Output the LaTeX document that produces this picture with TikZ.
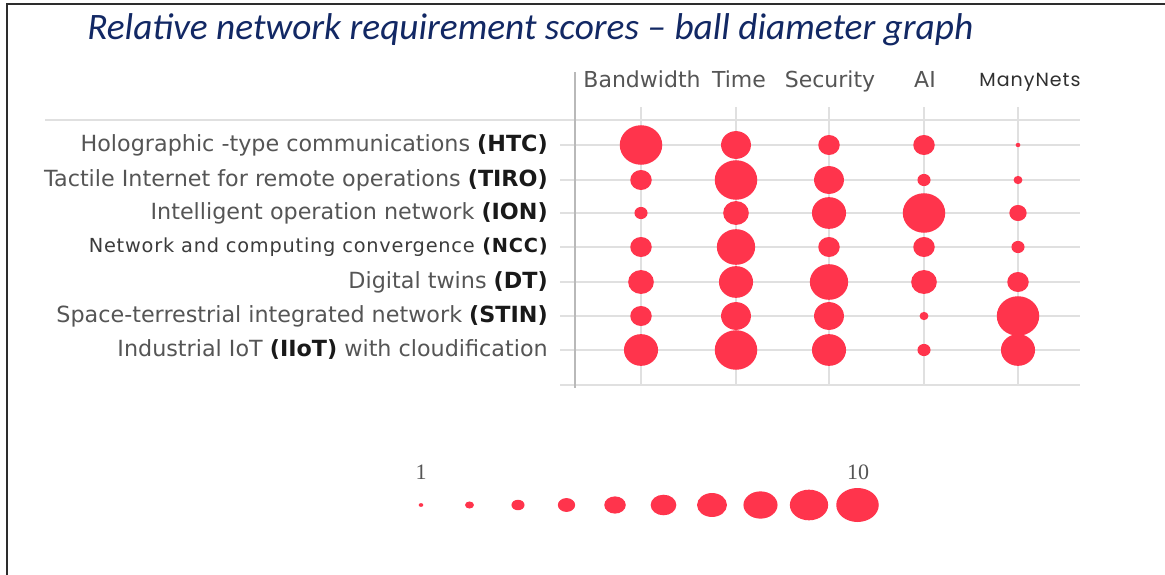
\documentclass[tikz,border=0pt]{standalone}
\usepackage{fontspec}
\usetikzlibrary{shapes.geometric}
\setmainfont{DejaVu Sans}
\newfontfamily\titlefont{Carlito}
\newfontfamily\geofont[LetterSpace=5]{Poppins}
\newfontfamily\convfont[LetterSpace=4]{DejaVu Sans}
\newfontfamily\numfont{Liberation Serif}
\definecolor{ballred}{RGB}{255,52,76}
\definecolor{titleblue}{RGB}{18,40,100}
\definecolor{gridgray}{RGB}{224,224,224}
\definecolor{axisgray}{RGB}{185,185,185}
\definecolor{labgray}{RGB}{85,85,85}
\definecolor{abbrgray}{RGB}{25,25,25}
\definecolor{framegray}{RGB}{45,45,45}
\tikzset{
  ball/.style={ellipse, fill=ballred, draw=none, inner sep=0pt, outer sep=0pt},
  gridline/.style={draw=gridgray, line width=1.5pt},
  axisline/.style={draw=axisgray, line width=1.2pt},
  rowlabel/.style={anchor=east, inner sep=0pt, text=labgray, font=\fontsize{16.7}{16.7}\selectfont},
  colhead/.style={anchor=base, inner sep=0pt, text=labgray, font=\fontsize{16.5}{16.5}\selectfont},
  keylabel/.style={anchor=base, inner sep=0pt, text=labgray, font=\numfont\fontsize{16.5}{16.5}\selectfont},
}
\newcommand{\abbr}[1]{\textbf{\textcolor{abbrgray}{#1}}}
\begin{document}
\begin{tikzpicture}[x=0.75pt,y=-0.75pt]
\useasboundingbox (0,0) rectangle (1165,575);
\fill[white] (0,0) rectangle (1165,575);

% frame along the top and left edges
\coordinate (fbl) at (7,575);
\coordinate (ftl) at (7,4);
\coordinate (ftr) at (1165,4);
\draw[framegray, line width=2.2pt] (fbl) -- (ftl) -- (ftr);

% title
\node[anchor=base west, inner sep=0pt, text=titleblue,
      font=\titlefont\itshape\fontsize{28}{28}\selectfont] (title) at (87,39)
  {Relative network requirement scores – ball diameter graph};

% column grid lines
\foreach \cx/\nm in {641/bw,736/ti,829/se,924/ai,1018/mn} {
  \coordinate (top-\nm) at (\cx,107);
  \coordinate (bot-\nm) at (\cx,385);
  \draw[gridline] (top-\nm) -- (bot-\nm);
}
% row grid lines
\foreach \ry/\nm in {145/r1,180/r2,213/r3,247/r4,282/r5,316/r6,350/r7} {
  \coordinate (lft-\nm) at (560,\ry);
  \coordinate (rgt-\nm) at (1080,\ry);
  \draw[gridline] (lft-\nm) -- (rgt-\nm);
}
\coordinate (hl) at (45,120);  \coordinate (hr) at (1080,120);
\draw[gridline] (hl) -- (hr);
\coordinate (bl) at (560,385); \coordinate (br) at (1080,385);
\draw[gridline] (bl) -- (br);
% vertical axis
\coordinate (axt) at (575,72); \coordinate (axb) at (575,388);
\draw[axisline] (axt) -- (axb);

% column headings
\node[colhead] (h-bw) at (642,87) {Bandwidth};
\node[colhead] (h-ti) at (739,87) {Time};
\node[colhead] (h-se) at (830,87) {Security};
\node[colhead] (h-ai) at (925,87) {AI};
\node[anchor=base, inner sep=0pt, text=abbrgray!90,
      font=\geofont\fontsize{14.3}{14.3}\selectfont] (h-mn) at (1030,86) {ManyNets};

% row labels
\node[rowlabel] (l1) at (548,145) {Holographic -type communications \abbr{(HTC)}};
\node[rowlabel] (l2) at (548,180) {Tactile Internet for remote operations \abbr{(TIRO)}};
\node[rowlabel] (l3) at (548,213) {Intelligent operation network \abbr{(ION)}};
\node[rowlabel, text=abbrgray!85, font=\convfont\fontsize{14.5}{14.5}\selectfont] (l4) at (548,247)
  {Network and computing convergence \abbr{(NCC)}};
\node[rowlabel] (l5) at (548,282) {Digital twins \abbr{(DT)}};
\node[rowlabel] (l6) at (548,316) {Space-terrestrial integrated network \abbr{(STIN)}};
\node[rowlabel] (l7) at (548,350) {Industrial IoT \abbr{(IIoT)} with cloudification};

% balls: diameter grows with the score (1..10)
\foreach \ry/\rn/\sc in {145/1/{10,7,5,5,1}, 180/2/{5,10,7,3,2}, 213/3/{3,6,8,10,4},
                         247/4/{5,9,5,5,3}, 282/5/{6,8,9,6,5}, 316/6/{5,7,7,2,10},
                         350/7/{8,10,8,3,8}} {
  \foreach \s [count=\ci] in \sc {
    \pgfmathsetmacro\cx{{641,736,829,924,1018}[\ci-1]}
    \pgfmathsetmacro\dw{(4.2*\s+0.5)*0.75}
    \pgfmathsetmacro\dh{\dw*0.93}
    \node[ball, minimum width=\dw pt, minimum height=\dh pt] (b\rn-\ci) at (\cx,\ry) {};
  }
}

% size key
\foreach \i in {1,...,10} {
  \pgfmathsetmacro\lx{421+48.5*(\i-1)}
  \pgfmathsetmacro\dw{(4.2*\i+0.5)*0.75}
  \pgfmathsetmacro\dh{\dw*0.8}
  \node[ball, minimum width=\dw pt, minimum height=\dh pt] (key\i) at (\lx,505) {};
}
\node[keylabel] (k1) at (421,479) {1};
\node[keylabel] (k10) at (858,479) {10};
\end{tikzpicture}
\end{document}
